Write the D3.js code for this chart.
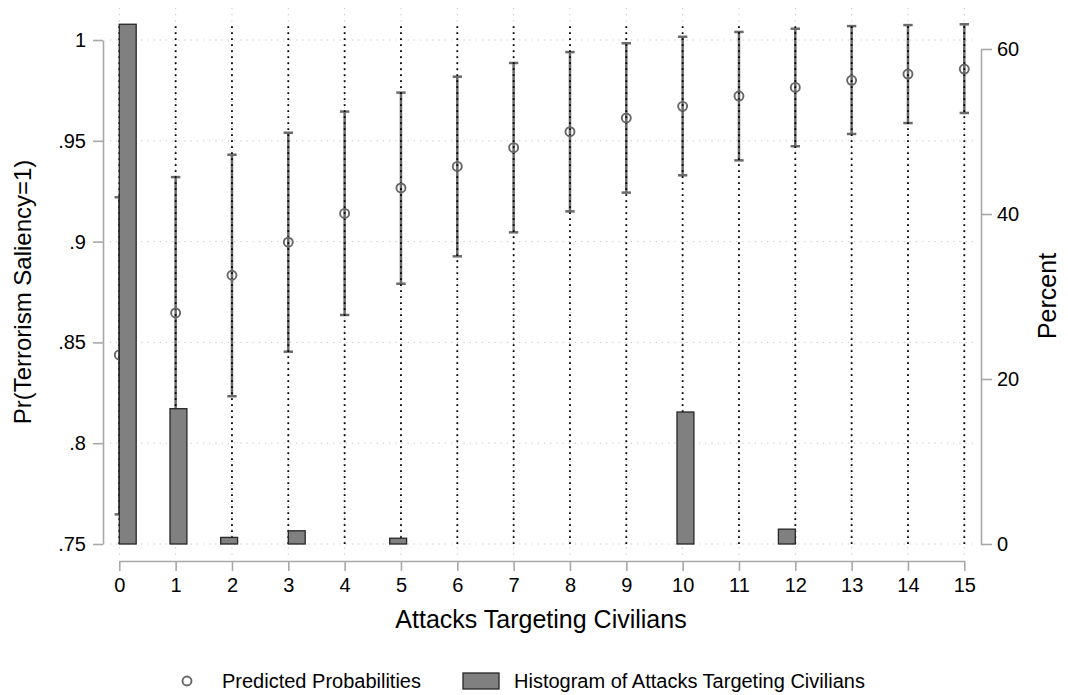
<!DOCTYPE html>
<html>
<head>
<meta charset="utf-8">
<script src="https://cdn.jsdelivr.net/npm/d3@7"></script>
<style>
  html, body { margin: 0; padding: 0; background: #fff; }
  text { font-family: "Liberation Sans", Arial, sans-serif; fill: #000; }
</style>
</head>
<body>
<svg id="chart" width="1068" height="695"></svg>
<script>
// Number of attacks targeting civilians (x positions of the margins)
const attacks = [0, 1, 2, 3, 4, 5, 6, 7, 8, 9, 10, 11, 12, 13, 14, 15];
// Predicted Pr(Terrorism Saliency=1) and its 95% interval
const predicted = [0.8438, 0.8646, 0.8833, 0.8997, 0.9140, 0.9266, 0.9373, 0.9466,
                   0.9545, 0.9613, 0.9671, 0.9722, 0.9765, 0.9800, 0.9831, 0.9856];
const ciLow  = [0.7647, 0.7970, 0.8233, 0.8454, 0.8636, 0.8791, 0.8927, 0.9046,
                0.9150, 0.9243, 0.9329, 0.9403, 0.9473, 0.9534, 0.9588, 0.9638];
const ciHigh = [0.9220, 0.9320, 0.9431, 0.9540, 0.9645, 0.9739, 0.9818, 0.9886,
                0.9940, 0.9984, 1.0016, 1.0040, 1.0056, 1.0069, 1.0074, 1.0078];

// Histogram of attacks (bin left edges, bin width, percent of observations)
const binStart = [0, 0.9, 1.8, 3.0, 4.8, 9.9, 11.7];
const binWidth = 0.3;
const binPct   = [63.0, 16.4, 0.8, 1.6, 0.7, 16.0, 1.8];

// Axis ticks
const xTicks = attacks;
const yLeftTicks = [0.75, 0.8, 0.85, 0.9, 0.95, 1];
const yLeftLabels = [".75", ".8", ".85", ".9", ".95", "1"];
const yRightTicks = [0, 20, 40, 60];

const svg = d3.select("#chart");
svg.append("rect").attr("width", 1068).attr("height", 695).attr("fill", "#fff");

const x = d3.scaleLinear().domain([0, 15]).range([119.3, 964.3]);
const yL = d3.scaleLinear().domain([0.75, 1]).range([544, 40]);
const yR = d3.scaleLinear().domain([0, 60]).range([544, 49]);

const plot = { left: 110, right: 975, top: 8, bottom: 555 };
const gridColor = "#c4c4c4";
const axisColor = "#a8a8a8";

// Grid lines
const grid = svg.append("g");
grid.selectAll("line.h").data(yLeftTicks).join("line")
  .attr("x1", plot.left).attr("x2", plot.right)
  .attr("y1", d => yL(d)).attr("y2", d => yL(d))
  .attr("stroke", gridColor).attr("stroke-width", 1)
  .attr("stroke-dasharray", "1.2,5");
grid.selectAll("line.v").data(xTicks).join("line")
  .attr("y1", plot.top).attr("y2", plot.bottom)
  .attr("x1", d => x(d)).attr("x2", d => x(d))
  .attr("stroke", gridColor).attr("stroke-width", 1)
  .attr("stroke-dasharray", "1.2,5");

// Confidence intervals (solid gray with caps)
const ci = svg.append("g").attr("stroke", "#6a6a6a").attr("stroke-width", 2.5);
attacks.forEach((a, i) => {
  ci.append("line").attr("x1", x(a)).attr("x2", x(a))
    .attr("y1", yL(ciLow[i])).attr("y2", yL(ciHigh[i]));
  [ciLow[i], ciHigh[i]].forEach(v => {
    ci.append("line").attr("x1", x(a) - 4.7).attr("x2", x(a) + 4.7)
      .attr("y1", yL(v)).attr("y2", yL(v));
  });
});

// Dotted black spikes at each value of x
const spikeTop = d3.max(binPct);
svg.append("g").selectAll("line").data(attacks).join("line")
  .attr("x1", d => x(d)).attr("x2", d => x(d))
  .attr("y1", yR(0)).attr("y2", yR(spikeTop))
  .attr("stroke", "#000").attr("stroke-width", 1.8)
  .attr("stroke-dasharray", "1.8,4.2");

// Predicted probability markers
svg.append("g").selectAll("circle").data(attacks).join("circle")
  .attr("cx", d => x(d)).attr("cy", (d, i) => yL(predicted[i]))
  .attr("r", 4.5).attr("fill", "none")
  .attr("stroke", "#666").attr("stroke-width", 1.9);

// Histogram bars on the right-hand axis
svg.append("g").selectAll("rect").data(binStart).join("rect")
  .attr("x", d => x(d)).attr("width", d => x(d + binWidth) - x(d))
  .attr("y", (d, i) => yR(binPct[i]))
  .attr("height", (d, i) => yR(0) - yR(binPct[i]))
  .attr("fill", "#808080").attr("stroke", "#262626").attr("stroke-width", 1.3);

// Axes
function styleAxis(g) {
  g.select(".domain").attr("stroke", axisColor).attr("stroke-width", 1.6);
  g.selectAll(".tick line").attr("stroke", axisColor).attr("stroke-width", 1.6);
  g.selectAll(".tick text").style("font-size", "20px")
    .style("font-family", "'Liberation Sans', Arial, sans-serif").attr("fill", "#000");
}

svg.append("g").attr("transform", "translate(103,0)")
  .call(d3.axisLeft(yL).tickValues(yLeftTicks)
    .tickFormat((d, i) => yLeftLabels[i]).tickSize(10).tickSizeOuter(0).tickPadding(7))
  .call(styleAxis);

svg.append("g").attr("transform", "translate(0,561)")
  .call(d3.axisBottom(x).tickValues(xTicks).tickFormat(d3.format("d"))
    .tickSize(10).tickSizeOuter(0).tickPadding(7))
  .call(styleAxis);

svg.append("g").attr("transform", "translate(981,0)")
  .call(d3.axisRight(yR).tickValues(yRightTicks).tickFormat(d3.format("d"))
    .tickSize(11).tickSizeOuter(0).tickPadding(5))
  .call(styleAxis);

// Axis titles
svg.append("text").attr("transform", "translate(31,292) rotate(-90)")
  .attr("text-anchor", "middle").style("font-size", "24px")
  .text("Pr(Terrorism Saliency=1)");
svg.append("text").attr("transform", "translate(1056,296) rotate(-90)")
  .attr("text-anchor", "middle").style("font-size", "25px")
  .text("Percent");
svg.append("text").attr("x", 541).attr("y", 628)
  .attr("text-anchor", "middle").style("font-size", "25px")
  .text("Attacks Targeting Civilians");

// Legend
const legend = svg.append("g");
legend.append("circle").attr("cx", 187).attr("cy", 681).attr("r", 4.5)
  .attr("fill", "none").attr("stroke", "#666").attr("stroke-width", 1.9);
legend.append("text").attr("x", 222).attr("y", 688)
  .style("font-size", "20px").text("Predicted Probabilities");
legend.append("rect").attr("x", 463).attr("y", 673).attr("width", 36).attr("height", 16)
  .attr("fill", "#808080").attr("stroke", "#262626").attr("stroke-width", 1.3);
legend.append("text").attr("x", 514).attr("y", 688)
  .style("font-size", "20px").text("Histogram of Attacks Targeting Civilians");
</script>
</body>
</html>
